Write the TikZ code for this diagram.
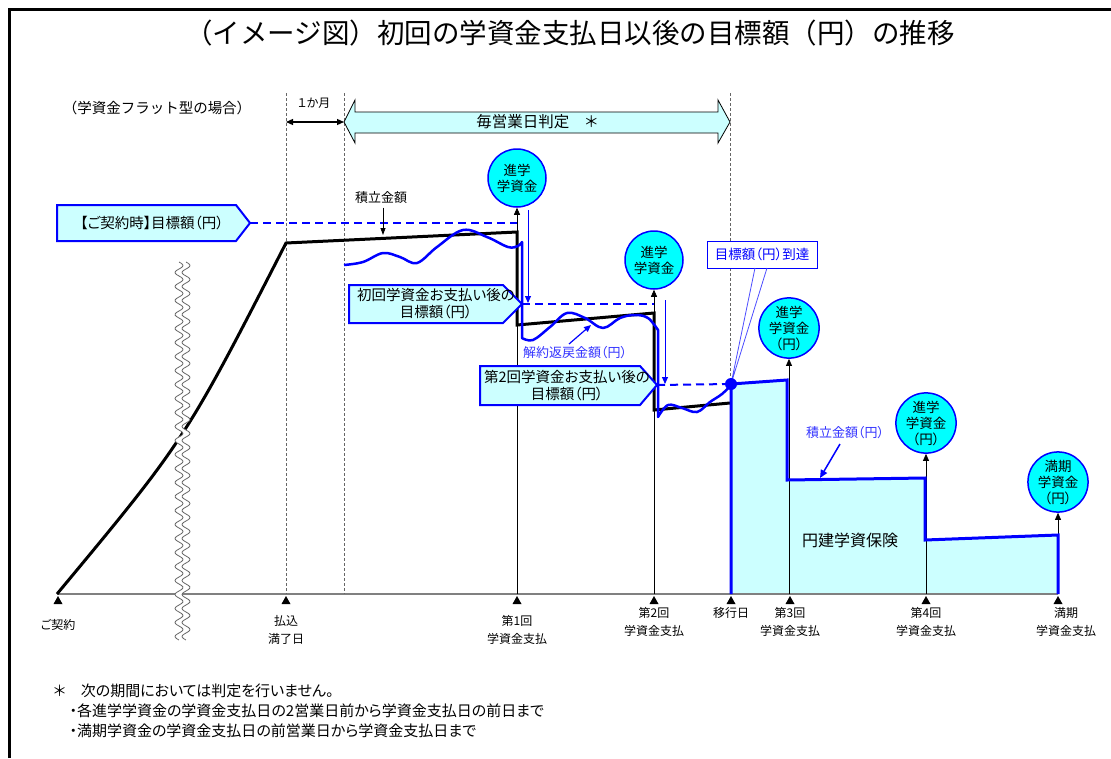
\documentclass[tikz,border=0pt]{standalone}
\usepackage{fontspec}
\setmainfont{Noto Sans CJK JP}[RawFeature={+palt}]
\newfontfamily\fullw{Noto Sans CJK JP}
\usetikzlibrary{arrows.meta}
\definecolor{lcyan}{HTML}{CCFFFF}
\definecolor{ccyan}{HTML}{00FFFF}
\definecolor{bblue}{HTML}{0000FF}
\definecolor{tblue}{HTML}{3333FF}
\definecolor{axgray}{HTML}{808080}
\tikzset{
  fa/.style={font=\fontsize{12}{18}\selectfont},
  fb/.style={font=\fontsize{13}{16}\selectfont},
  fc/.style={font=\fontsize{14.5}{17}\selectfont},
  fnote/.style={font=\fontsize{15}{18}\selectfont, anchor=west},
  ftitle/.style={font=\fullw\fontsize{27.5}{30}\selectfont},
  vdash/.style={draw=black!60, line width=0.8pt, dash pattern=on 3pt off 2pt},
  blkline/.style={draw=black, line width=3pt, line join=miter},
  bdash/.style={draw=bblue, line width=2pt, dash pattern=on 8pt off 5pt},
  bthick/.style={draw=bblue, line width=3pt},
  bwave/.style={draw=bblue, line width=2.5pt, line join=round},
  pent/.style={fill=lcyan, draw=bblue, line width=2pt},
  ybubble/.style={circle, draw=bblue, fill=ccyan, line width=1.5pt, minimum size=58pt, inner sep=0pt, align=center, font=\fontsize{13.5}{16}\selectfont},
  uparr/.style={draw=black, line width=0.7pt, -{Triangle[length=7pt,width=6pt]}},
  bdownarr/.style={draw=bblue, line width=1pt, -{Triangle[length=7pt,width=6pt]}},
  blabarr/.style={draw=bblue, line width=1.5pt, -{Triangle[length=8pt,width=7pt]}},
  klabarr/.style={draw=black, line width=0.8pt, -{Triangle[length=7pt,width=5pt]}},
  wavy/.style={draw=black!60, line width=0.8pt},
  marker/.style={fill=black},
}
\begin{document}
\begin{tikzpicture}[x=1pt,y=-1pt]
\useasboundingbox (0,0) rectangle (1111,758);
% frame
\draw[line width=2.5pt] (9.5,758) -- (9.5,9.5) -- (1111,9.5);

% title and top labels
\node[ftitle] (title) at (570,33) {（イメージ図）初回の学資金支払日以後の目標額（円）の推移};
\node[font=\fullw\fontsize{14.5}{17}\selectfont] (case) at (157,108) {（学資金フラット型の場合）};
\node[fa] (month) at (314,103) {１か月};

% axis coordinates
\coordinate (a0) at (57,594);
\coordinate (a1) at (286,594);
\coordinate (a1b) at (344,594);
\coordinate (a2) at (517,594);
\coordinate (a3) at (654,594);
\coordinate (a4) at (731,594);
\coordinate (a5) at (789,594);
\coordinate (a6) at (926,594);
\coordinate (a7) at (1058,594);
\coordinate (d1) at (286,93);
\coordinate (d2) at (344,93);
\coordinate (d3) at (730,93);

% yen insurance region
\fill[lcyan] (a4) -- (731,384) -- (787,380) -- (787,480) -- (925,478) -- (925,540) -- (1058,535) -- (a7) -- cycle;

% axis
\draw[draw=axgray, line width=1.5pt] (a0) -- (a7);

% dashed verticals
\draw[vdash] (d1) -- (a1);
\draw[vdash] (d2) -- (a1b);
\draw[vdash] (d3) -- (730,594);

% big double arrow
\path[fill=lcyan, draw=black, line width=0.8pt] (344,122) -- (355,100) -- (355,112) -- (718,112) -- (718,100) -- (730,122) -- (718,143) -- (718,133) -- (355,133) -- (355,143) -- cycle;
\node[font=\fontsize{15.5}{18}\selectfont] (daily) at (537,122) {毎営業日判定\quad ＊};
% one month arrow
\draw[line width=1.2pt, {Triangle[length=7pt,width=6pt]}-{Triangle[length=7pt,width=6pt]}] (286,122) -- (344,122);

% accumulation (black)
\draw[blkline] (a0) .. controls (185,440) .. (286,243) -- (517,232) -- (517,325) -- (654,313) -- (654,410) -- (730,403);

% wavy break
\fill[white] plot[domain=262:640,samples=300,variable=\t] ({179+4*sin((\t-262)*25.714)},\t) -- plot[domain=640:262,samples=300,variable=\t] ({186+4*sin((\t-262)*25.714)},\t) -- cycle;
\draw[wavy] plot[domain=262:640,samples=300,variable=\t] ({179+4*sin((\t-262)*25.714)},\t);
\draw[wavy] plot[domain=262:640,samples=300,variable=\t] ({186+4*sin((\t-262)*25.714)},\t);

% bubbles and vertical arrows
\node[ybubble] (c1) at (517,178) {進学\\学資金};
\node[ybubble] (c2) at (654,260) {進学\\学資金};
\node[ybubble] (c3) at (789,328) {進学\\学資金\\（円）};
\node[ybubble] (c4) at (926,423) {進学\\学資金\\（円）};
\node[ybubble] (c5) at (1058,482) {満期\\学資金\\（円）};
\draw[uparr] (a2) -- (c1);
\draw[uparr] (a3) -- (c2);
\draw[uparr] (a5) -- (c3);
\draw[uparr] (a6) -- (c4);
\draw[uparr] (a7) -- (c5);

% yen insurance outline
\draw[bthick] (a4) -- (731,384) -- (787,380) -- (787,480) -- (925,478) -- (925,540) -- (1058,535) -- (a7);
\node[font=\fontsize{16}{19}\selectfont] (yen) at (850,540) {円建学資保険};

% surrender value wave
\draw[bwave] plot[smooth,tension=0.6] coordinates {(344,265) (363,262) (383,253) (400,257) (417,263) (437,247) (463,230) (487,237) (508,247) (518,246) (522,242)} -- (522,338) -- plot[smooth,tension=0.6] coordinates {(522,338) (533,340) (550,327) (567,313) (585,318) (603,328) (620,318) (635,315) (648,318) (658,330)} -- (658,417) -- plot[smooth,tension=0.6] coordinates {(658,417) (668,405) (682,408) (697,412) (710,402) (722,394) (731,385)};

% target pentagons
\coordinate (p1tip) at (250,223);
\coordinate (p2tip) at (522,304);
\coordinate (p3tip) at (657,385);
\coordinate (h1) at (517,223);
\coordinate (h2) at (654,304);
\coordinate (dot) at (731,384);
\path[pent] (57,205) -- (236,205) -- (p1tip) -- (236,241) -- (57,241) -- cycle;
\node[fc] (t1) at (152,223) {【ご契約時】目標額（円）};
\path[pent] (349,285) -- (503,285) -- (p2tip) -- (503,323) -- (349,323) -- cycle;
\node[fc, align=center] (t2) at (436,304) {初回学資金お支払い後の\\目標額（円）};
\path[pent] (480,366) -- (640,366) -- (p3tip) -- (640,405) -- (480,405) -- cycle;
\node[fc, align=center] (t3) at (567,386) {第2回学資金お支払い後の\\目標額（円）};

\draw[bdash] (p1tip) -- (h1);
\draw[bdash] (p2tip) -- (h2);
\draw[bdash] (p3tip) -- (dot);

% blue drop arrows
\coordinate (b1s) at (528,210);
\coordinate (b1e) at (528,303);
\coordinate (b2s) at (665,300);
\coordinate (b2e) at (665,384);
\draw[bdownarr] (b1s) -- (b1e);
\draw[bdownarr] (b2s) -- (b2e);

% reached callout
\node[draw=bblue, fill=white, line width=1pt, minimum width=110pt, minimum height=27pt, inner sep=0pt, text=bblue, font=\fontsize{13.5}{16}\selectfont] (reach) at (762,254.5) {目標額（円）到達};
\draw[draw=bblue!70, line width=0.8pt] (755,268) -- (dot) -- (767,268);
\fill[bblue] (dot) circle (6);

% labels with arrows
\node[fb] (acc) at (381,198) {積立金額};
\coordinate (acce) at (383,235);
\draw[klabarr] (acc.south -| acce) -- (acce);
\node[fb, text=tblue] (surr) at (575,353) {解約返戻金額（円）};
\coordinate (surre) at (591,325);
\draw[draw=bblue, line width=1.2pt, -{Triangle[length=7pt,width=6pt]}] (569,344) -- (surre);
\node[fb, text=tblue] (yacc) at (845,433) {積立金額（円）};
\coordinate (yacce) at (820,478);
\draw[blabarr] (840,444) -- (yacce);

% axis markers
\foreach \x in {58,286,517,654,731,790,926,1058} \fill[marker] (\x-4.5,604) -- (\x+4.5,604) -- (\x,596) -- cycle;
\node[fa] (l0) at (58,625) {ご契約};
\node[fa, align=center] (l1) at (286,630) {払込\\満了日};
\node[fa, align=center] (l2) at (517,630) {第1回\\学資金支払};
\node[fa, align=center] (l3) at (654,622) {第2回\\学資金支払};
\node[fa] (l4) at (731,613) {移行日};
\node[fa, align=center] (l5) at (790,622) {第3回\\学資金支払};
\node[fa, align=center] (l6) at (926,622) {第4回\\学資金支払};
\node[fa, align=center] (l7) at (1066,622) {満期\\学資金支払};

% footnotes
\node[fnote] (n1) at (50,691) {＊\quad 次の期間においては判定を行いません。};
\node[fnote] (n2) at (66,711) {・各進学学資金の学資金支払日の2営業日前から学資金支払日の前日まで};
\node[fnote] (n3) at (66,731) {・満期学資金の学資金支払日の前営業日から学資金支払日まで};
\end{tikzpicture}
\end{document}
